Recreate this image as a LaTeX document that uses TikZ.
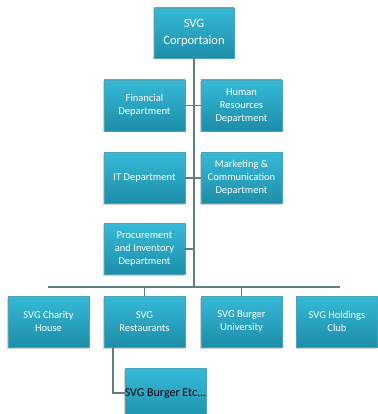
\documentclass[tikz,border=0pt]{standalone}
\usepackage{fontspec}
\setmainfont{Carlito}
\usetikzlibrary{shadows}
\definecolor{boxtop}{HTML}{36BAD8}
\definecolor{boxbot}{HTML}{1D8DA8}
\definecolor{linkcol}{HTML}{5F8080}
\tikzset{
  unit/.style={rectangle, minimum width=81pt, minimum height=51pt,
    top color=boxtop, bottom color=boxbot, draw=boxbot!80!white, line width=0.4pt,
    text=white, align=center, font=\fontsize{10.5}{13}\selectfont, inner sep=1pt,
    drop shadow={shadow xshift=-1pt, shadow yshift=-1.5pt, fill=black!35, opacity=0.5}},
  headunit/.style={unit, minimum width=80pt, minimum height=50pt,
    font=\fontsize{12.5}{17}\selectfont},
  link/.style={draw=linkcol, line width=1.6pt}
}
\begin{document}
\begin{tikzpicture}[x=1pt, y=-1pt]
\useasboundingbox (0,0) rectangle (377,414);
\fill[white] (0,0) rectangle (377,414);

% head of the organisation
\node[headunit] (corp) at (194,33) {SVG\\Corportaion};

% staff departments along the trunk
\node[unit] (fin) at (144.5,105.5) {Financial\\Department};
\node[unit] (hr)  at (241.5,105.5) {Human\\Resources\\Department};
\node[unit] (it)  at (144.5,178)   {IT Department};
\node[unit] (mkt) at (241.5,178)   {Marketing \&\\Communication\\Department};
\node[unit] (proc) at (144.5,249)  {Procurement\\and Inventory\\Department};

% subsidiaries below the bus
\node[unit] (charity) at (48.5,321.5)  {SVG Charity\\House};
\node[unit] (rest)    at (144.5,321.5) {SVG\\Restaurants};
\node[unit] (univ)    at (241.5,321.5) {SVG Burger\\University};
\node[unit] (club)    at (337,321.5)   {SVG Holdings\\Club};

% partly visible box at the lower edge
\begin{scope}
\clip (0,0) rectangle (377,414);
\node[unit, minimum height=56pt, anchor=north] (etc) at (165.5,368) {};
\end{scope}
\node[font=\fontsize{12}{14}\selectfont, text=black, inner sep=0pt] (etclabel) at (165.5,394) {SVG Burger Etc...};

% connectors
\coordinate (busL) at (48,287);
\coordinate (busR) at (340,287);
\coordinate (trunkEnd) at (corp.south |- busL);
\coordinate (restOut) at ([xshift=-31.5pt]rest.south);

\draw[link] (corp.south) -- (trunkEnd);
\draw[link] (busL) -- (busR);
\draw[link] (fin.east) -- (fin.east -| corp.south);
\draw[link] (hr.west) -- (hr.west -| corp.south);
\draw[link] (it.east) -- (it.east -| corp.south);
\draw[link] (mkt.west) -- (mkt.west -| corp.south);
\draw[link] (proc.east) -- (proc.east -| corp.south);
\draw[link] (rest.north |- busL) -- (rest.north);
\draw[link] (univ.north |- busL) -- (univ.north);
\coordinate (etcIn) at (etc.west |- 0,393);
\draw[link] (restOut) -- (restOut |- etcIn) -- (etcIn);
\end{tikzpicture}
\end{document}
